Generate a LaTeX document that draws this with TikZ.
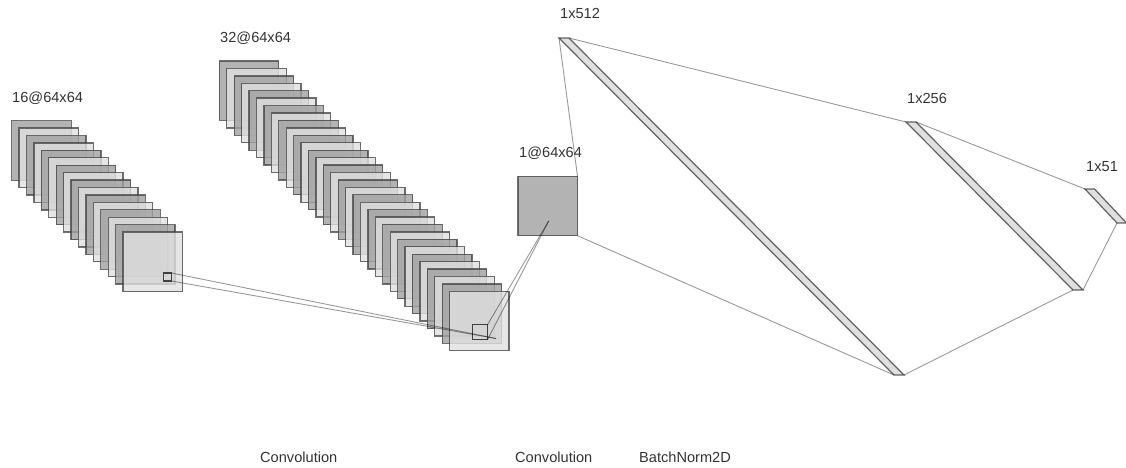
\documentclass[tikz,border=0pt]{standalone}
\usepackage{fontspec}
\setmainfont{Liberation Sans}
\usetikzlibrary{positioning}
\definecolor{cdark}{HTML}{A0A0A0}
\definecolor{clight}{HTML}{E0E0E0}
\definecolor{cedge}{HTML}{404040}
\definecolor{ctext}{HTML}{333333}
\tikzset{
  every picture/.style={x=1pt, y=-1pt},
  map/.style={draw=cedge, draw opacity=0.75, fill=#1, fill opacity=0.8, line width=1.3pt, minimum size=59.5pt, inner sep=0pt, outer sep=0pt, anchor=north west},
  patch/.style={draw=cedge, line width=1.2pt, minimum size=15pt, inner sep=0pt, outer sep=0pt, anchor=north west},
  bar/.style={draw=cedge, draw opacity=0.8, fill=clight, line width=1.2pt},
  link/.style={draw=black, draw opacity=0.4, line width=0.9pt},
  label/.style={font=\fontsize{14.6}{17}\selectfont, text=ctext, anchor=west, inner sep=0pt},
}
\begin{document}
\begin{tikzpicture}
  \useasboundingbox (0,0) rectangle (1126,468);
  % first stack
  \foreach \i in {0,...,15} {
    \ifodd\i \def\c{clight}\else \def\c{cdark}\fi
    \node[map=\c] (a\i) at (11.7+7.42*\i,120.7+7.42*\i) {};
  }
  % second stack
  \foreach \i in {0,...,31} {
    \ifodd\i \def\c{clight}\else \def\c{cdark}\fi
    \node[map=\c] (b\i) at (219.3+7.43*\i,61+7.43*\i) {};
  }
  \node[map=cdark] (one) at (518,176.2) {};
  \foreach \n/\x/\y/\X/\Y/\w in {p/559/38/894/375/10, q/906/122/1073/290/10, r/1085/189/1117/223/9.5} {
    \coordinate (\n tl) at (\x,\y);
    \coordinate (\n tr) at (\x+\w,\y);
    \coordinate (\n bl) at (\X,\Y);
    \coordinate (\n br) at (\X+\w,\Y);
    \draw[bar] (\n tl) -- (\n tr) -- (\n br) -- (\n bl) -- cycle;
  }
  \node[patch, minimum size=8pt] (pa) at (163.5,273) {};
  \node[patch] (pb) at (472.5,324.7) {};
  \coordinate (ea) at (496,338.5);
  \coordinate (eb) at (548.7,221);
  \draw[link] (pa.north east) -- (ea);
  \draw[link] (pa.south east) -- (ea);
  \draw[link] (pb.north east) -- (eb);
  \draw[link] (pb.south east) -- (eb);
  \draw[link] (ptl) -- (one.north east);
  \draw[link] (one.south east) -- (pbl);
  \draw[link] (ptr) -- (qtl);
  \draw[link] (pbr) -- (qbl);
  \draw[link] (qtr) -- (rtl);
  \draw[link] (qbr) -- (rbl);
  % labels
  \node[label] (la) at (12,98) {16@64x64};
  \node[label] (lb) at (220,38) {32@64x64};
  \node[label] (lc) at (519,153) {1@64x64};
  \node[label] (ld) at (560,13.5) {1x512};
  \node[label] (le) at (907,98.5) {1x256};
  \node[label] (lf) at (1086,166.5) {1x51};
  \node[label] (lg) at (260,457.5) {Convolution};
  \node[label] (lh) at (515,457.5) {Convolution};
  \node[label] (li) at (639,457.5) {BatchNorm2D};
\end{tikzpicture}
\end{document}
